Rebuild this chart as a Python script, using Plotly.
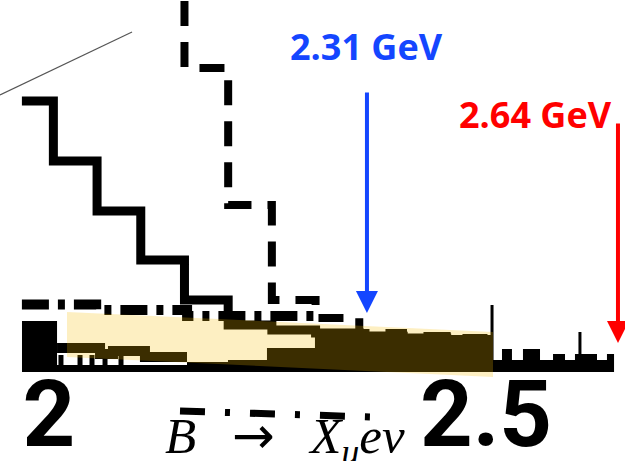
import plotly.graph_objects as go

# ---------------- data (x in GeV, y in arbitrary event units) ----------------
solid_edges = [1.969, 2.005, 2.055, 2.105, 2.155, 2.205, 2.255, 2.305, 2.355, 2.405, 2.455, 2.505]
solid_vals = [279, 219, 169, 120, 80, 55, 50, 47, 44, 42, 40]

dashed_edges = [2.155, 2.155, 2.205, 2.255, 2.305, 2.355, 2.405, 2.455, 2.505]
dashed_vals = [420, 312, 175, 80, 62, 47, 44, 42]

dashdot_edges = [1.969, 2.054, 2.158, 2.305]
dashdot_vals = [75.5, 70, 64]

strip_edges = [2.0092, 2.0584, 2.0732, 2.1098, 2.1579]
strip_vals = [32, 26, 29, 23]

bkg_edges = [1.9691, 2.0092, 2.1579, 2.2048, 2.2494, 2.3043, 2.5080, 2.5183, 2.5297,
             2.5423, 2.5618, 2.5767, 2.5904, 2.6018, 2.6270, 2.6384, 2.6465]
bkg_vals = [59, 15, 18, 20, 32, 45, 20, 31, 20, 31, 20, 26, 20, 26, 20, 26]
bkg_base = 8

tick_x = [1.9783, 1.9931, 2.0137, 2.0355, 2.0492, 2.0641, 2.0824]
tick_lo, tick_hi = 15, 25

spike_x = [2.5069, 2.6075]
spike_top = [75, 48]

diag_x = [1.94394, 2.095]
diag_y = [285, 348]

band_x = [2.0206, 2.508, 2.508, 2.0206]
band_y = [68, 48, 3, 23]

x_ticks = [2.0, 2.5]
x_ticklabels = ["2", "2.5"]

blue_label, blue_x, blue_tail, blue_tip = "2.31 GeV", 2.3638, 289, 67
red_label, red_x, red_tail, red_tip = "2.64 GeV", 2.651, 258, 37

X_RANGE = [1.94394, 2.65904]
Y_RANGE = [0, 380]


def step(edges, vals):
    xs = list(edges[: len(vals)]) + [edges[len(vals)]]
    ys = list(vals) + [vals[-1]]
    return xs, ys


fig = go.Figure()

# black filled background region
bx, by = step(bkg_edges, bkg_vals)
fig.add_trace(go.Scatter(x=[bkg_edges[0], bkg_edges[-1]], y=[bkg_base, bkg_base],
                         mode="lines", line=dict(width=0, color="black"), hoverinfo="skip"))
fig.add_trace(go.Scatter(x=bx, y=by, mode="lines", line=dict(width=0, color="black", shape="hv"),
                         fill="tonexty", fillcolor="black"))

# small ticks along the bottom
tx, ty = [], []
for t in tick_x:
    tx += [t, t, None]
    ty += [tick_lo, tick_hi, None]
fig.add_trace(go.Scatter(x=tx, y=ty, mode="lines", line=dict(width=5, color="black")))

# spikes
sx, sy = [], []
for xv, top in zip(spike_x, spike_top):
    sx += [xv, xv, None]
    sy += [bkg_base, top, None]
fig.add_trace(go.Scatter(x=sx, y=sy, mode="lines", line=dict(width=3, color="black")))

# low strip
stx, sty = step(strip_edges, strip_vals)
fig.add_trace(go.Scatter(x=stx, y=sty, mode="lines", line=dict(width=10, color="black", shape="hv")))

# dash-dot histogram
ddx, ddy = step(dashdot_edges, dashdot_vals)
fig.add_trace(go.Scatter(x=ddx, y=ddy, mode="lines",
                         line=dict(width=10, color="black", shape="hv", dash="27px,9px,7px,9px")))

# solid histogram
shx, shy = step(solid_edges, solid_vals)
fig.add_trace(go.Scatter(x=shx, y=shy, mode="lines", line=dict(width=9, color="black", shape="hv")))

# dashed histogram
dhx = list(dashed_edges)
dhy = list(dashed_vals) + [dashed_vals[-1]]
fig.add_trace(go.Scatter(x=dhx, y=dhy, mode="lines",
                         line=dict(width=8, color="black", shape="hv", dash="25px,16px")))

# thin diagonal line
fig.add_trace(go.Scatter(x=diag_x, y=diag_y, mode="lines", line=dict(width=1.2, color="#555555")))

# uncertainty band
fig.add_trace(go.Scatter(x=band_x + [band_x[0]], y=band_y + [band_y[0]], mode="lines",
                         line=dict(width=0), fill="toself", fillcolor="rgba(247,189,0,0.24)"))

title_text = ("<i>B</i>\u2002\u2009<span style=\"font-family:DejaVu Sans\">\u2192</span>\u2002\u2009"
              "<i>X</i><sub><i>u</i></sub><i>eν</i>")

annotations = [
    dict(x=blue_x, y=blue_tip, xref="x", yref="y", text="", showarrow=True, ax=0,
         ay=-(blue_tail - blue_tip) * 1.0, arrowhead=2, arrowsize=1.1, arrowwidth=4, arrowcolor="#1446ff"),
    dict(x=red_x, y=red_tip, xref="x", yref="y", text="", showarrow=True, ax=0,
         ay=-(red_tail - red_tip) * 1.0, arrowhead=2, arrowsize=1.1, arrowwidth=4, arrowcolor="#ff0000"),
    dict(x=2.3627, y=334, xref="x", yref="y", text="<b>" + blue_label + "</b>", showarrow=False,
         font=dict(family="Open Sans", size=36, color="#1446ff")),
    dict(x=2.5572, y=266, xref="x", yref="y", text="<b>" + red_label + "</b>", showarrow=False,
         font=dict(family="Open Sans", size=36, color="#ff0000")),
    dict(x=285 / 625, y=-(404 - 380) / 380, xref="paper", yref="paper", yanchor="top",
         text=title_text, showarrow=False,
         font=dict(family="Liberation Serif", size=51, color="black")),
]

shapes = [
    dict(type="line", xref="paper", yref="paper", x0=180 / 625, x1=372 / 625,
         y0=-(411 - 380) / 380, y1=-(417 - 380) / 380,
         line=dict(color="black", width=7, dash="25px,20px,5px,20px")),
]

fig.update_layout(
    width=625, height=461,
    margin=dict(l=0, r=0, t=0, b=81, autoexpand=False),
    paper_bgcolor="white", plot_bgcolor="white",
    showlegend=False,
    annotations=annotations,
    shapes=shapes,
    xaxis=dict(range=X_RANGE, showgrid=False, zeroline=False, showline=False, automargin=False,
               tickvals=x_ticks, ticktext=x_ticklabels, ticks="",
               tickfont=dict(family="Roboto", size=92, color="black", weight="bold"),
               ticklabelstandoff=-27),
    yaxis=dict(range=Y_RANGE, visible=False, automargin=False),
)

fig.write_html("out.html")
